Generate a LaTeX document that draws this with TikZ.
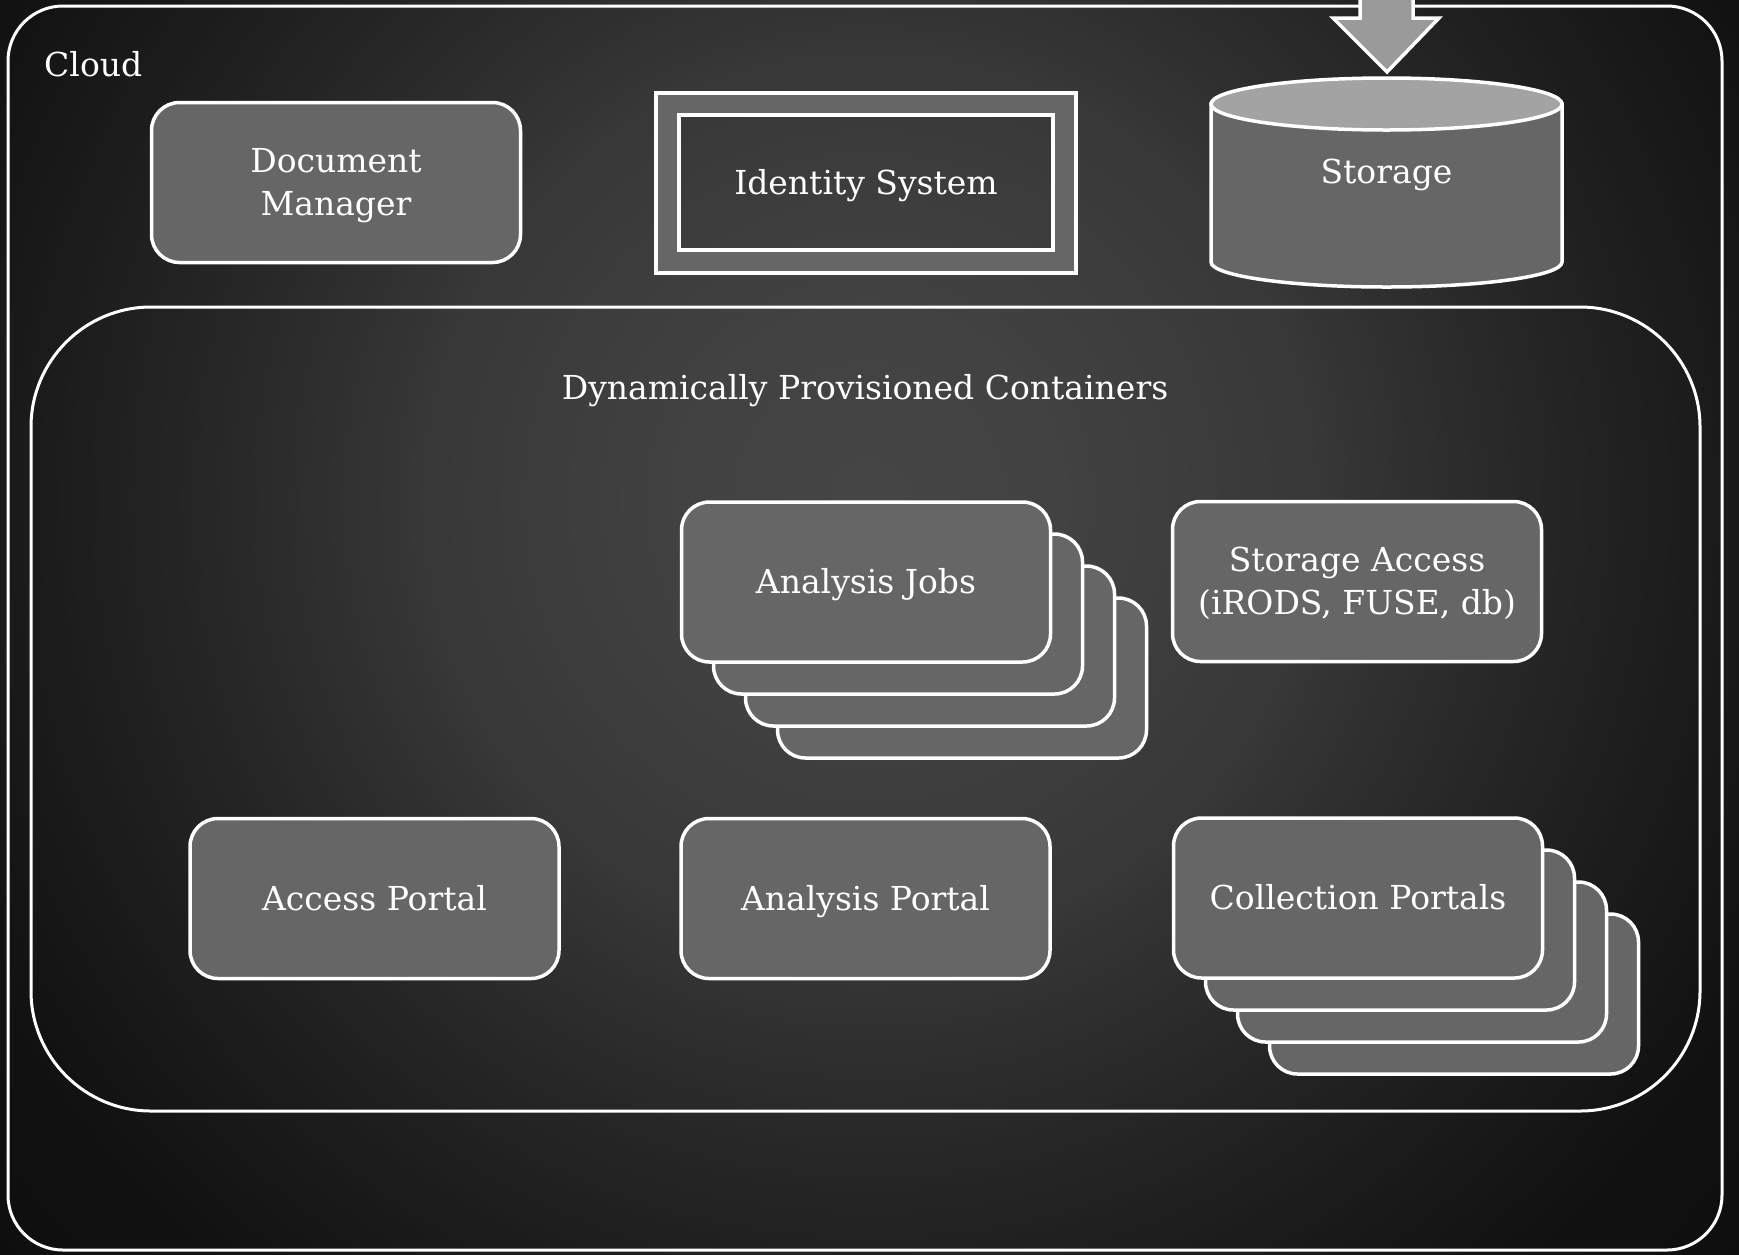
\documentclass[tikz,border=0pt]{standalone}
\usepackage{fontspec}
\setmainfont{DejaVu Serif}
\definecolor{boxgray}{HTML}{666666}
\definecolor{topgray}{HTML}{A3A3A3}
\definecolor{arrowgray}{HTML}{9A9A9A}
\definecolor{bgout}{RGB}{14,14,14}
\newcommand{\diafont}{\fontsize{33}{43}\selectfont}
\newcommand{\dn}[1]{\raisebox{-3.3pt}[\height][\depth]{\strut #1}}
\tikzset{
  card/.style={draw=white, line width=3.5pt, fill=boxgray, rounded corners=28pt,
    minimum width=369pt, minimum height=160pt, inner sep=0pt,
    text=white, align=center, font=\diafont},
  backcard/.style={card},
  frame/.style={draw=white, line width=3pt},
  lbl/.style={text=white, font=\diafont, inner sep=0pt}
}
\begin{document}
\begin{tikzpicture}[x=1pt,y=1pt]
\clip (0,0) rectangle (1739,-1254);
\useasboundingbox (0,0) rectangle (1739,-1254);
% background glow
\fill[bgout] (0,0) rectangle (1739,-1254);
\foreach \r in {1200,1190,...,10} {
  \pgfmathtruncatemacro{\v}{\r<200 ? 70-\r*0.02 : (\r<450 ? 66-(\r-200)*0.04 : (\r<600 ? 56-(\r-450)*0.08 : (\r<800 ? 44-(\r-600)*0.07 : (\r<1000 ? 30-(\r-800)*0.06 : 18-(\r-1000)*0.02))))}
  \definecolor{tmpc}{RGB}{\v,\v,\v}
  \fill[tmpc] (870,-500) circle[radius=\r pt];
}

% cloud frame
\draw[frame, rounded corners=55pt] (8,-6) rectangle (1722,-1250);
\node[lbl, anchor=west] (cloud) at (44,-64) {Cloud};

% containers frame
\draw[frame, rounded corners=120pt] (31,-307) rectangle (1700,-1111);
\node[lbl] (dpc) at (865,-391) {Dynamically Provisioned Containers};

% document manager
\node[card] (docmgr) at (336,-182.5) {\dn{Document}\\\dn{Manager}};

% identity system
\fill[boxgray, even odd rule] (656,-93) rectangle (1076,-273) (679,-115) rectangle (1053,-250);
\node[draw=white, line width=3.5pt, minimum width=420pt, minimum height=180pt, inner sep=0pt] (idframe) at (866,-183) {};
\node[draw=white, line width=3.5pt, minimum width=374pt, minimum height=135pt, inner sep=0pt, text=white, font=\diafont] (identity) at (866,-182.5) {\dn{Identity System}};

% storage cylinder
\coordinate (stc) at (1386.5,-104);
\draw[white, line width=3.5pt, fill=boxgray] (1211,-104) -- (1211,-262) arc[start angle=180, end angle=360, x radius=175.5pt, y radius=25pt] -- (1562,-104) -- cycle;
\draw[white, line width=3.5pt, fill=topgray] (stc) ellipse[x radius=175.5pt, y radius=26pt];
\node[lbl] (storage) at (1386.5,-175) {Storage};

% incoming arrow
\draw[white, line width=3.5pt, fill=arrowgray, line join=miter] (1360,20) -- (1360,-18) -- (1333,-18) -- (1387,-72) -- (1439,-18) -- (1413,-18) -- (1413,20) -- cycle;
\coordinate (arrowtip) at (1387,-72);

% analysis jobs stack
\node[backcard] (jobs3) at (962,-678) {};
\node[backcard] (jobs2) at (930,-646) {};
\node[backcard] (jobs1) at (898,-614) {};
\node[card] (jobs) at (866,-582) {\dn{Analysis Jobs}};

% storage access
\node[card] (stacc) at (1357,-581.5) {\dn{Storage Access}\\\dn{(iRODS, FUSE, db)}};

% portals
\node[card] (access) at (374.5,-898.5) {\dn{Access Portal}};
\node[card] (aportal) at (865.5,-898.5) {\dn{Analysis Portal}};

\node[backcard] (coll3) at (1454,-994) {};
\node[backcard] (coll2) at (1422,-962) {};
\node[backcard] (coll1) at (1390,-930) {};
\node[card] (coll) at (1358,-898) {\dn{Collection Portals}};
\end{tikzpicture}
\end{document}
